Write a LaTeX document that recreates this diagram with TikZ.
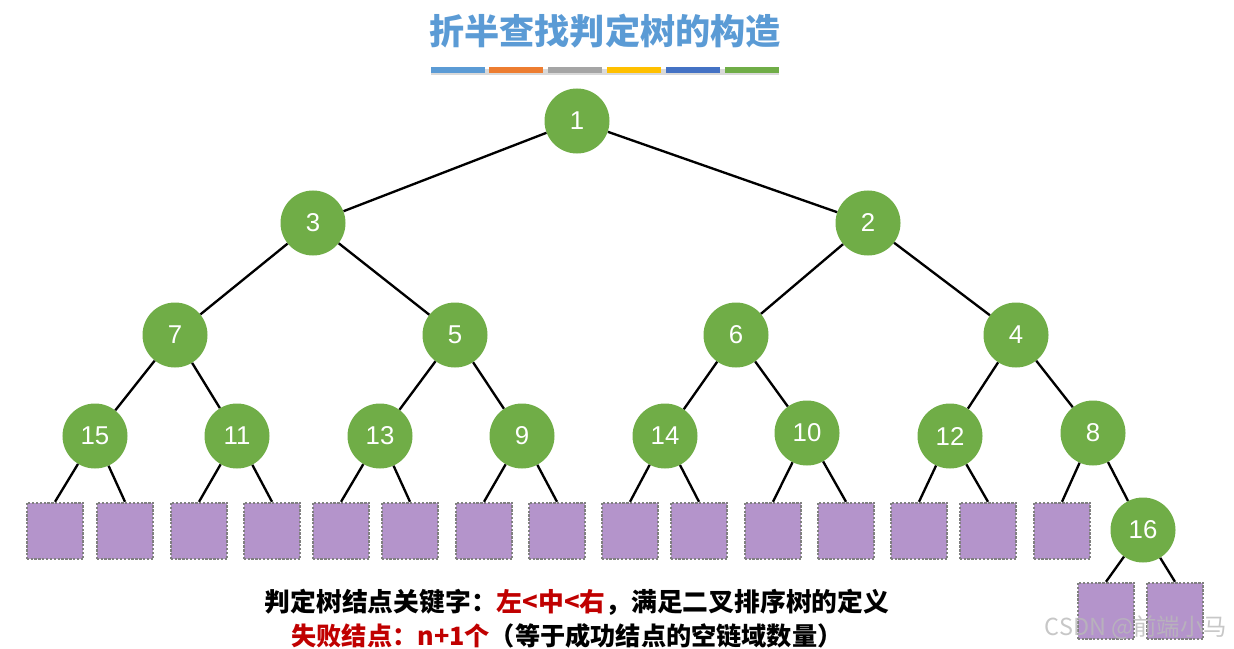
\documentclass[tikz,border=0pt]{standalone}
\usepackage{fontspec}
\setmainfont{Liberation Sans}
\newfontfamily\cjk{Noto Sans CJK SC}
\usepackage{xcolor}
\definecolor{leaf}{HTML}{70AD47}
\definecolor{fail}{HTML}{B494CB}
\definecolor{titleblue}{HTML}{5B9BD5}
\definecolor{keyred}{HTML}{C00000}
\usetikzlibrary{positioning,backgrounds}

\tikzset{
	knode/.style={circle,fill=leaf,text=white,minimum size=1.95cm,inner sep=0pt,font=\fontsize{22}{22}\selectfont},
	fnode/.style={rectangle,fill=fail,draw=gray,dash pattern=on 2pt off 1.3pt,line width=1.5pt,minimum size=1.7cm,inner sep=0pt},
	kedge/.style={line width=2pt,black},
	bar/.style={minimum width=1.6cm,minimum height=0.17cm,inner sep=0pt}
}

\begin{document}
\begin{tikzpicture}[x=0.03cm,y=-0.03cm]
	\useasboundingbox (0,0) rectangle (1234,649);
	
	% title
	\node (title) at (605,31) [font=\cjk\bfseries\fontsize{30}{30}\selectfont,text=titleblue]{折半查找判定树的构造};
	\node (b1) at (458,70) [bar,fill=titleblue]{};
	\node (b2) at (516,70) [bar,fill={rgb,255:red,237;green,125;blue,49}]{};
	\node (b3) at (575,70) [bar,fill={rgb,255:red,165;green,165;blue,165}]{};
	\node (b4) at (634,70) [bar,fill={rgb,255:red,255;green,192;blue,0}]{};
	\node (b5) at (693,70) [bar,fill={rgb,255:red,68;green,114;blue,196}]{};
	\node (b6) at (752,70) [bar,fill=leaf]{};
	\begin{scope}[on background layer]
	\fill[gray!30] ([yshift=-0.07cm]b1.south west) rectangle ([yshift=-0.07cm]b6.north east);
	\end{scope}
	
	% key nodes
	\node (n1) at (577,121) [knode]{1};
	\node (n3) at (313,223) [knode]{3};
	\node (n2) at (868,223) [knode]{2};
	\node (n7) at (175,335) [knode]{7};
	\node (n5) at (455,335) [knode]{5};
	\node (n6) at (736,335) [knode]{6};
	\node (n4) at (1016,335) [knode]{4};
	\node (n15) at (95,436) [knode]{15};
	\node (n11) at (237,436) [knode]{11};
	\node (n13) at (380,436) [knode]{13};
	\node (n9) at (522,436) [knode]{9};
	\node (n14) at (665,436) [knode]{14};
	\node (n10) at (807,433) [knode]{10};
	\node (n12) at (950,436) [knode]{12};
	\node (n8) at (1093,433) [knode]{8};
	\node (n16) at (1143,530) [knode]{16};
	
	% failure nodes
	\node (f1) at (55,531) [fnode]{};
	\node (f2) at (125,531) [fnode]{};
	\node (f3) at (199,531) [fnode]{};
	\node (f4) at (272,531) [fnode]{};
	\node (f5) at (341,531) [fnode]{};
	\node (f6) at (410,531) [fnode]{};
	\node (f7) at (484,531) [fnode]{};
	\node (f8) at (557,531) [fnode]{};
	\node (f9) at (630,531) [fnode]{};
	\node (f10) at (699,531) [fnode]{};
	\node (f11) at (773,531) [fnode]{};
	\node (f12) at (846,531) [fnode]{};
	\node (f13) at (919,531) [fnode]{};
	\node (f14) at (988,531) [fnode]{};
	\node (f15) at (1062,531) [fnode]{};
	\node (f16) at (1106,611) [fnode]{};
	\node (f17) at (1175,611) [fnode]{};
	
	\draw[kedge](n1)--(n3);
	\draw[kedge](n1)--(n2);
	\draw[kedge](n3)--(n7);
	\draw[kedge](n3)--(n5);
	\draw[kedge](n2)--(n6);
	\draw[kedge](n2)--(n4);
	\draw[kedge](n7)--(n15);
	\draw[kedge](n7)--(n11);
	\draw[kedge](n5)--(n13);
	\draw[kedge](n5)--(n9);
	\draw[kedge](n6)--(n14);
	\draw[kedge](n6)--(n10);
	\draw[kedge](n4)--(n12);
	\draw[kedge](n4)--(n8);
	\draw[kedge](n8)--(n16);
	
	\draw[kedge](n15)--(f1.north);
	\draw[kedge](n15)--(f2.north);
	\draw[kedge](n11)--(f3.north);
	\draw[kedge](n11)--(f4.north);
	\draw[kedge](n13)--(f5.north);
	\draw[kedge](n13)--(f6.north);
	\draw[kedge](n9)--(f7.north);
	\draw[kedge](n9)--(f8.north);
	\draw[kedge](n14)--(f9.north);
	\draw[kedge](n14)--(f10.north);
	\draw[kedge](n10)--(f11.north);
	\draw[kedge](n10)--(f12.north);
	\draw[kedge](n12)--(f13.north);
	\draw[kedge](n12)--(f14.north);
	\draw[kedge](n8)--(f15.north);
	\draw[kedge](n16)--(f16.north);
	\draw[kedge](n16)--(f17.north);
	
	% notes
	\node (note1) at (577,602) [font=\cjk\bfseries\fontsize{22}{22}\selectfont]{判定树结点关键字：\textcolor{keyred}{左<中<右}，满足二叉排序树的定义};
	\node (note2) at (567,636) [font=\cjk\bfseries\fontsize{21.5}{21.5}\selectfont]{\textcolor{keyred}{失败结点：n+1个}（等于成功结点的空链域数量）};
	\node (mark) at (1136,628) [font=\cjk\fontsize{20}{20}\selectfont,text=gray!55,opacity=0.8]{CSDN @前端小马};
\end{tikzpicture}
\end{document}
